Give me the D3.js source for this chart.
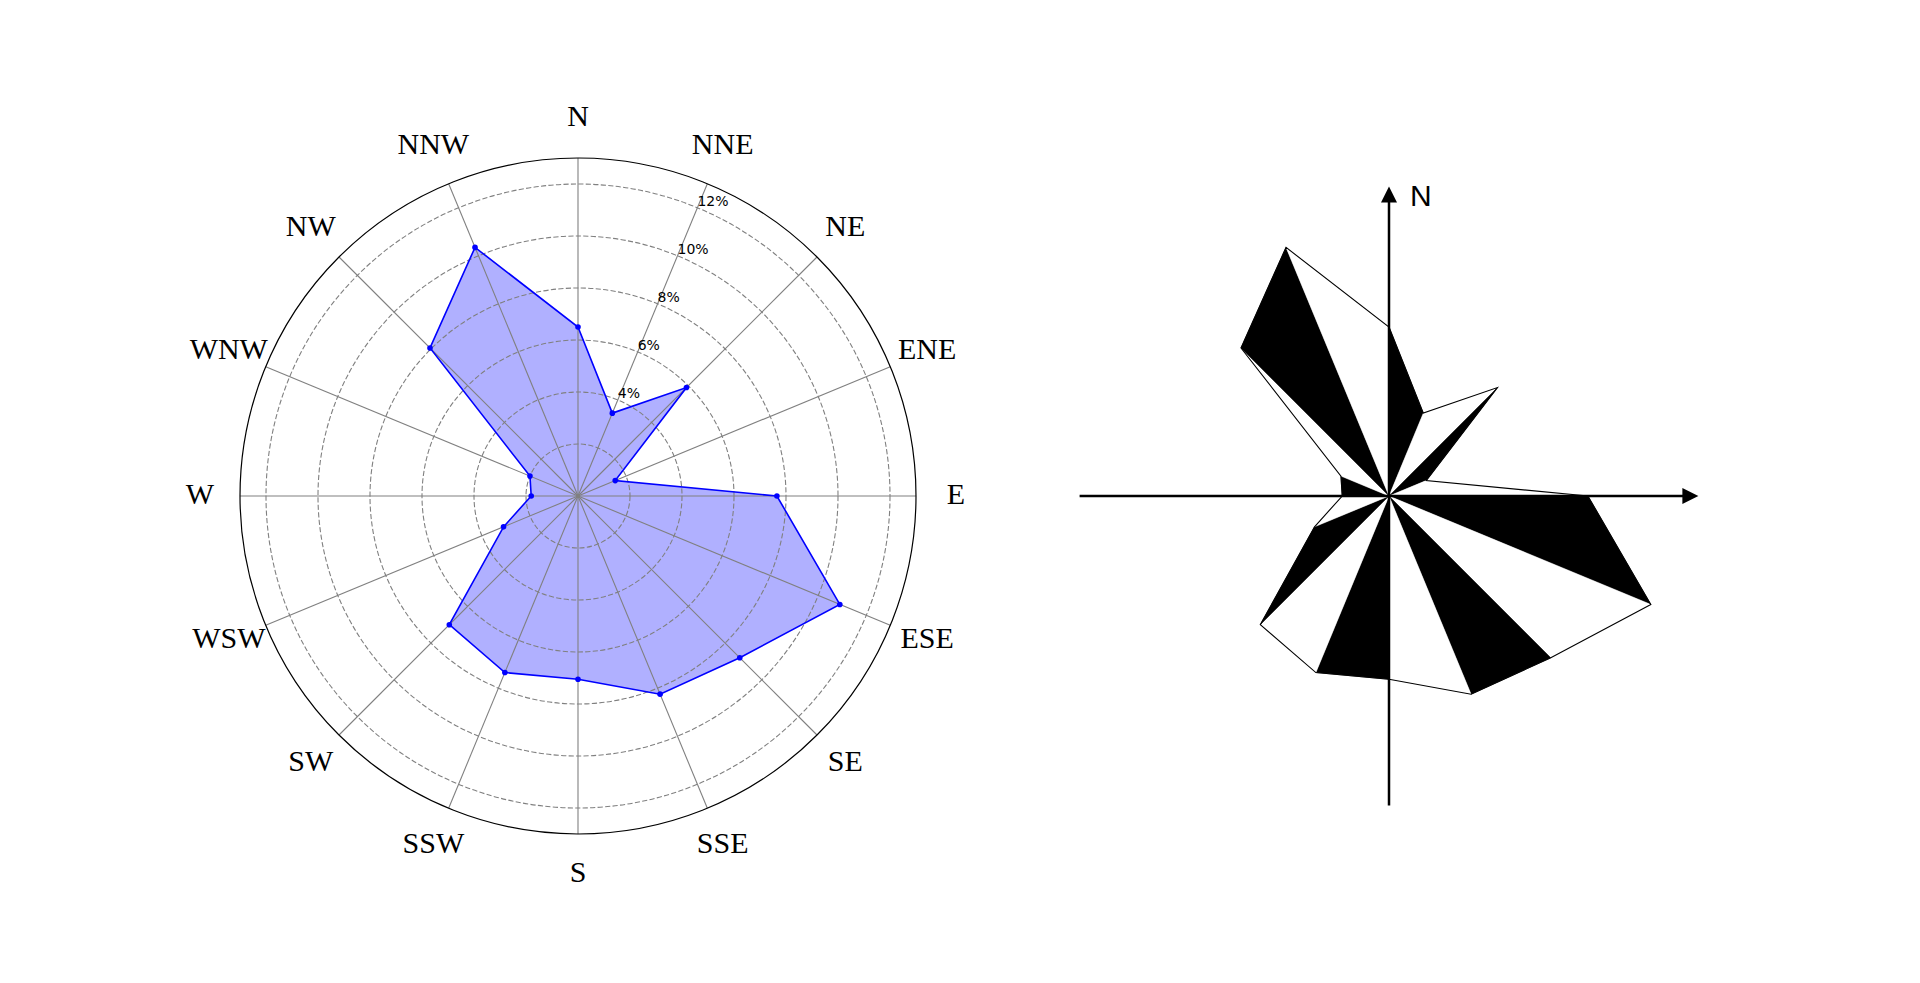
<!DOCTYPE html>
<html>
<head>
<meta charset="utf-8">
<script src="https://cdn.jsdelivr.net/npm/d3@7/dist/d3.min.js"></script>
<style>
  html, body { margin: 0; padding: 0; background: #fff; }
  svg { display: block; }
</style>
</head>
<body>
<svg id="chart" width="1920" height="983"></svg>
<script>
// wind directions, clockwise from north
var directions = ["N", "NNE", "NE", "ENE", "E", "ESE", "SE", "SSE",
                  "S", "SSW", "SW", "WSW", "W", "WNW", "NW", "NNW"];
// frequency of each direction, in %
var frequencies = [6.5, 3.45, 5.9, 1.55, 7.65, 10.9, 8.8, 8.25,
                   7.05, 7.35, 7.0, 3.1, 1.8, 2.0, 8.05, 10.35];
var ringTicks = [2, 4, 6, 8, 10, 12];
var ringLabels = ["", "4%", "6%", "8%", "10%", "12%"];
var rMax = 13;
var axisExtent = 11.9;

var svg = d3.select("#chart");
var r = d3.scaleLinear().domain([0, rMax]).range([0, 338]);
var angle = function(i) { return i * 2 * Math.PI / directions.length; };
var px = function(i, v) { return r(v) * Math.sin(angle(i)); };
var py = function(i, v) { return -r(v) * Math.cos(angle(i)); };

var data = directions.map(function(d, i) { return {dir: d, i: i, v: frequencies[i]}; });

// ---------- left: polar plot ----------
var g = svg.append("g").attr("transform", "translate(578,496)");

var radial = d3.lineRadial()
    .angle(function(d) { return angle(d.i); })
    .radius(function(d) { return r(d.v); })
    .curve(d3.curveLinearClosed);

g.append("path")
    .attr("d", radial(data))
    .attr("fill", "#0000ff")
    .attr("fill-opacity", 0.31)
    .attr("stroke", "none");

g.selectAll(".ring")
    .data(ringTicks)
    .enter().append("circle")
        .attr("class", "ring")
        .attr("r", function(d) { return r(d); })
        .attr("fill", "none")
        .attr("stroke", "#808080")
        .attr("stroke-width", 1.1)
        .attr("stroke-dasharray", "5.2,2.3");

g.selectAll(".spoke")
    .data(data)
    .enter().append("line")
        .attr("class", "spoke")
        .attr("x1", 0).attr("y1", 0)
        .attr("x2", function(d) { return px(d.i, rMax); })
        .attr("y2", function(d) { return py(d.i, rMax); })
        .attr("stroke", "#808080")
        .attr("stroke-width", 1.1);

g.append("path")
    .attr("d", radial(data))
    .attr("fill", "none")
    .attr("stroke", "#0000ff")
    .attr("stroke-width", 1.6);

g.selectAll(".pt")
    .data(data)
    .enter().append("circle")
        .attr("class", "pt")
        .attr("cx", function(d) { return px(d.i, d.v); })
        .attr("cy", function(d) { return py(d.i, d.v); })
        .attr("r", 2.8)
        .attr("fill", "#0000ff");

g.append("circle")
    .attr("r", r(rMax))
    .attr("fill", "none")
    .attr("stroke", "#000")
    .attr("stroke-width", 1.2);

// radial tick labels along the 22.5 degree spoke
g.selectAll(".rlabel")
    .data(ringTicks)
    .enter().append("text")
        .attr("class", "rlabel")
        .attr("x", function(d) { return px(1, d); })
        .attr("y", function(d) { return py(1, d) - 2; })
        .attr("font-family", "DejaVu Sans, sans-serif")
        .attr("font-size", 14)
        .attr("fill", "#000")
        .text(function(d, i) { return ringLabels[i]; });

g.selectAll(".dirlabel")
    .data(data)
    .enter().append("text")
        .attr("class", "dirlabel")
        .attr("x", function(d) { return px(d.i, rMax) * 378 / 338; })
        .attr("y", function(d) { return py(d.i, rMax) * 378 / 338 - 3; })
        .attr("text-anchor", "middle")
        .attr("dominant-baseline", "central")
        .attr("font-family", "Liberation Serif, Times New Roman, serif")
        .attr("font-size", 30)
        .attr("fill", "#000")
        .text(function(d) { return d.dir; });

// ---------- right: black/white wind rose ----------
var g2 = svg.append("g").attr("transform", "translate(1389,496)");

g2.selectAll(".tri")
    .data(data)
    .enter().append("path")
        .attr("class", "tri")
        .attr("d", function(d) {
            var j = (d.i + 1) % data.length;
            return "M0,0L" + px(d.i, d.v) + "," + py(d.i, d.v) +
                   "L" + px(j, frequencies[j]) + "," + py(j, frequencies[j]) + "Z";
        })
        .attr("fill", function(d) { return d.i % 2 === 0 ? "#000" : "#fff"; })
        .attr("stroke", function(d) { return d.i % 2 === 0 ? "#000" : "#fff"; })
        .attr("stroke-width", 0.5)
        .attr("stroke-linejoin", "round");

g2.append("path")
    .attr("d", d3.line()
        .x(function(d) { return px(d.i, d.v); })
        .y(function(d) { return py(d.i, d.v); })
        .curve(d3.curveLinearClosed)(data))
    .attr("fill", "none")
    .attr("stroke", "#000")
    .attr("stroke-width", 1.1);

var ext = r(axisExtent), head = 16, hw = 8;
g2.append("line")
    .attr("x1", -ext).attr("y1", 0).attr("x2", ext - head + 2).attr("y2", 0)
    .attr("stroke", "#000").attr("stroke-width", 2.5);
g2.append("path")
    .attr("d", "M" + ext + ",0L" + (ext - head) + "," + (-hw) + "L" + (ext - head) + "," + hw + "Z")
    .attr("fill", "#000");
g2.append("line")
    .attr("x1", 0).attr("y1", ext).attr("x2", 0).attr("y2", -ext + head - 2)
    .attr("stroke", "#000").attr("stroke-width", 2.5);
g2.append("path")
    .attr("d", "M0," + (-ext) + "L" + (-hw) + "," + (-ext + head) + "L" + hw + "," + (-ext + head) + "Z")
    .attr("fill", "#000");
g2.append("text")
    .attr("x", 21)
    .attr("y", -ext + 19)
    .attr("font-family", "Liberation Sans, Arial, sans-serif")
    .attr("font-size", 30)
    .attr("fill", "#000")
    .text("N");
</script>
</body>
</html>
